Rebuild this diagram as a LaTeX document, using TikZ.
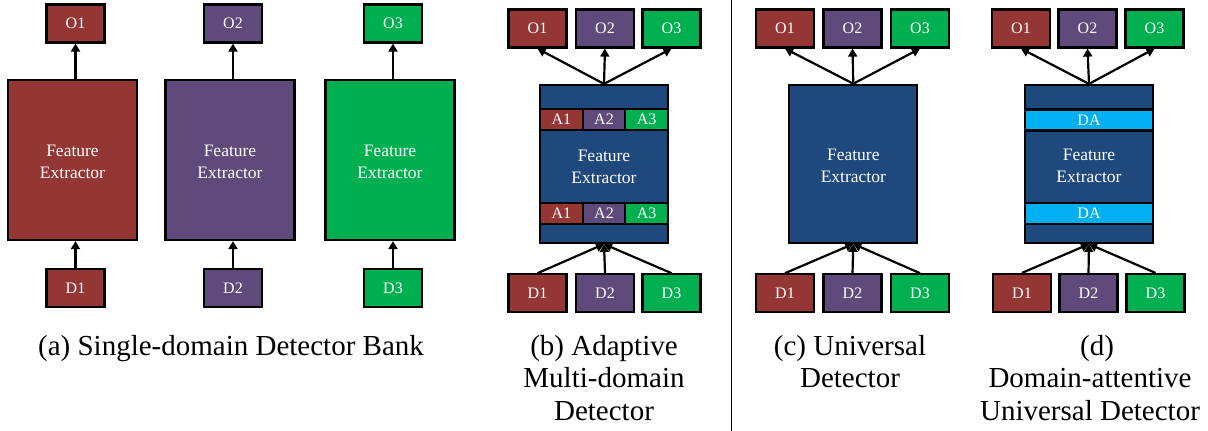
\documentclass[tikz,border=0pt]{standalone}
\usepackage{fontspec}
\setmainfont{Liberation Serif}
\usetikzlibrary{arrows.meta}
\definecolor{dred}{HTML}{943634}
\definecolor{dpurple}{HTML}{604A7B}
\definecolor{dgreen}{HTML}{00B050}
\definecolor{dblue}{HTML}{1F497D}
\definecolor{dcyan}{HTML}{00B0F0}
\begin{document}
\begin{tikzpicture}[x=1pt,y=-1pt,
  box/.style={draw=black, line width=2.2pt, text=white, inner sep=0pt},
  io/.style={box, minimum width=58pt, minimum height=38pt, font=\fontsize{16}{18}\selectfont},
  fe/.style={box, fill=dblue, minimum width=128pt, minimum height=158pt},
  fetext/.style={text=white, align=center, inner sep=0pt, font=\fontsize{17.5}{22}\selectfont},
  band/.style={box, minimum height=21pt, font=\fontsize{16}{18}\selectfont},
  arr/.style={line width=2.2pt, -{Triangle[length=8pt,width=9pt]}},
  captext/.style={anchor=base, inner sep=0pt, font=\fontsize{29}{33}\selectfont},
]
\useasboundingbox (0,0) rectangle (1208,431);

% ---------- (a) single-domain detector bank ----------
\foreach \cx/\col/\i in {72.5/dred/1, 230/dpurple/2, 390/dgreen/3}{
  \node[box, fill=\col, minimum width=129pt, minimum height=160pt] (fa\i) at (\cx,160) {};
  \node[fetext] (fta\i) at (\cx,162) {Feature\\Extractor};
  \node[io, fill=\col] (oa\i) at (\cx+3,23.5) {O\i};
  \node[io, fill=\col] (da\i) at (\cx+3,288) {D\i};
  \draw[arr] (oa\i.south |- fa\i.north) -- (oa\i.south);
  \draw[arr] (da\i.north) -- (da\i.north |- fa\i.south);
}
\node[captext] (capa) at (231,355) {(a) Single-domain Detector Bank};

% ---------- (b) adaptive multi-domain detector ----------
\node[fe] (fb) at (604,164) {};
\node[fetext] (ftb) at (604,166.5) {Feature\\Extractor};
\foreach \y/\r in {119.5/t, 213.5/b}{
  \node[band, fill=dred, minimum width=42.7pt] (ab1\r) at (561.3,\y) {A1};
  \node[band, fill=dpurple, minimum width=42.7pt] (ab2\r) at (604,\y) {A2};
  \node[band, fill=dgreen, minimum width=42.7pt] (ab3\r) at (646.7,\y) {A3};
}
\foreach \cx/\col/\i in {537.5/dred/1, 605/dpurple/2, 671.5/dgreen/3}{
  \node[io, fill=\col] (ob\i) at (\cx,28.5) {O\i};
  \node[io, fill=\col] (db\i) at (\cx,293.3) {D\i};
  \draw[arr] (fb.north) -- (ob\i.south);
  \draw[arr] (db\i.north) -- (fb.south);
}
\node[captext] (capb1) at (604,355) {(b) Adaptive};
\node[captext] (capb2) at (604,387.5) {Multi-domain};
\node[captext] (capb3) at (604,420) {Detector};

% ---------- divider ----------
\coordinate (divtop) at (731,0);
\coordinate (divbot) at (731,431);
\draw[line width=1pt] (divtop) -- (divbot);

% ---------- (c) universal detector ----------
\node[fe] (fc) at (853.3,163.8) {};
\node[fetext] (ftc) at (853.3,165.5) {Feature\\Extractor};
\foreach \cx/\col/\i in {785/dred/1, 852.5/dpurple/2, 920/dgreen/3}{
  \node[io, fill=\col] (oc\i) at (\cx,28.5) {O\i};
  \node[io, fill=\col] (dc\i) at (\cx,293.3) {D\i};
  \draw[arr] (fc.north) -- (oc\i.south);
  \draw[arr] (dc\i.north) -- (fc.south);
}
\node[captext] (capc1) at (850,355) {(c) Universal};
\node[captext] (capc2) at (850,387.5) {Detector};

% ---------- (d) domain-attentive universal detector ----------
\node[fe] (fd) at (1089,164) {};
\node[fetext] (ftd) at (1089,166) {Feature\\Extractor};
\node[band, fill=dcyan, minimum width=128pt] (dat) at (1089,120) {DA};
\node[band, fill=dcyan, minimum width=128pt] (dab) at (1089,213.5) {DA};
\foreach \cx/\col/\i in {1021/dred/1, 1087.5/dpurple/2, 1154.5/dgreen/3}{
  \node[io, fill=\col] (od\i) at (\cx,28.5) {O\i};
  \node[io, fill=\col] (dd\i) at (\cx+1,293) {D\i};
  \draw[arr] (fd.north) -- (od\i.south);
  \draw[arr] (dd\i.north) -- (fd.south);
}
\node[captext] (capd1) at (1097,355) {(d)};
\node[captext] (capd2) at (1090,387.5) {Domain-attentive};
\node[captext] (capd3) at (1090,420) {Universal Detector};
\end{tikzpicture}
\end{document}
